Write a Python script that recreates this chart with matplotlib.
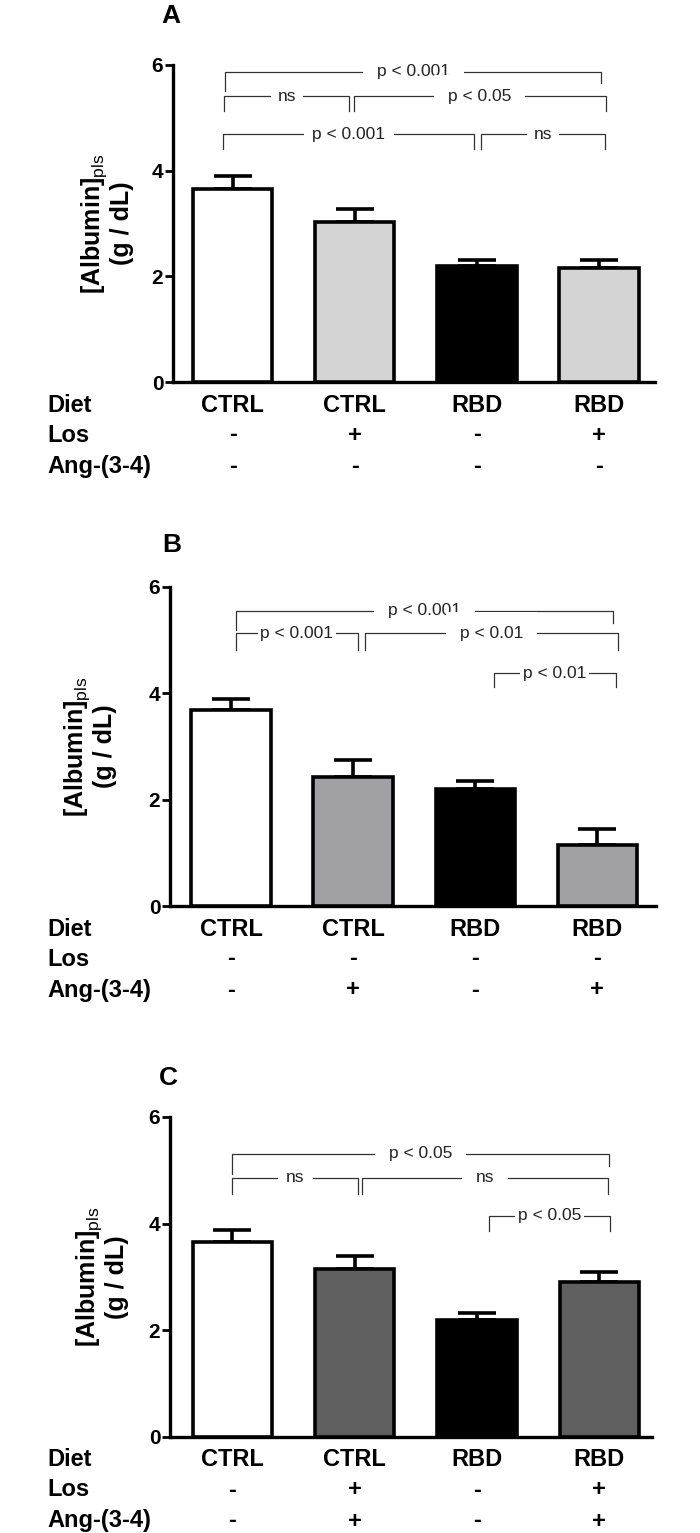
import numpy as np
import matplotlib.pyplot as plt

plt.rcParams['font.family'] = ['Liberation Sans', 'DejaVu Sans']
plt.rcParams['mathtext.fontset'] = 'custom'
plt.rcParams['mathtext.rm'] = 'Liberation Sans'
plt.rcParams['mathtext.bf'] = 'Liberation Sans:bold'

NARROW = ['Liberation Sans Narrow', 'Liberation Sans', 'DejaVu Sans']

#   Treatment groups (same four columns in each panel)
groups = ['CTRL', 'CTRL', 'RBD', 'RBD']
row_names = ['Diet', 'Los', 'Ang-(3-4)']

los_A = ['-', '+', '-', '+']
ang_A = ['-', '-', '-', '-']
los_B = ['-', '-', '-', '-']
ang_B = ['-', '+', '-', '+']
los_C = ['-', '+', '-', '+']
ang_C = ['-', '+', '-', '+']

#   Plasma albumin (g/dL), mean and SEM
alb_A = [3.65, 3.03, 2.19, 2.16]
sem_A = [0.24, 0.24, 0.12, 0.15]
alb_B = [3.68, 2.43, 2.20, 1.14]
sem_B = [0.22, 0.31, 0.15, 0.31]
alb_C = [3.65, 3.15, 2.20, 2.91]
sem_C = [0.24, 0.25, 0.13, 0.19]

#   Comparisons: (group i, group j, bracket height, label)
comp_A = [(0, 3, 5.875, 'p < 0.001'), (0, 1, 5.41, 'ns'), (1, 3, 5.41, 'p < 0.05'),
          (0, 2, 4.69, 'p < 0.001'), (2, 3, 4.69, 'ns')]
comp_B = [(0, 3, 5.55, 'p < 0.001'), (0, 1, 5.13, 'p < 0.001'), (1, 3, 5.13, 'p < 0.01'),
          (2, 3, 4.38, 'p < 0.01')]
comp_C = [(0, 3, 5.31, 'p < 0.05'), (0, 1, 4.86, 'ns'), (1, 3, 4.86, 'ns'),
          (2, 3, 4.15, 'p < 0.05')]

#   bracket end shifts (left, right), tick lengths (left, right), text gap (pt)
style_A = [(-0.06, 0.02, 0.375, 0.22, 10), (-0.07, -0.045, 0.28, 0.28, 5), (-0.01, 0.06, 0.28, 0.28, 10),
           (-0.08, -0.02, 0.28, 0.28, 6), (0.03, 0.05, 0.28, 0.28, 5)]
style_B = [(0.04, 0.13, 0.36, 0.22, 10), (0.04, 0.04, 0.31, 0.31, 2), (0.1, 0.17, 0.31, 0.31, 10),
           (0.15, 0.15, 0.27, 0.27, 2)]
style_C = [(0.0, 0.08, 0.375, 0.22, 10), (0.0, 0.03, 0.31, 0.31, 6), (0.06, 0.07, 0.31, 0.31, 10),
           (0.1, 0.09, 0.29, 0.29, 2)]

fig = plt.figure(figsize=(7, 15.33), dpi=100)
W, H = 700.0, 1533.0

def rect(left, right, top, bottom):
    return [left / W, 1 - bottom / H, (right - left) / W, (bottom - top) / H]

panels = [
    ('A', rect(173, 655, 65, 382), (-0.49, 3.46), alb_A, sem_A, '#d4d4d4', los_A, ang_A, comp_A, style_A, (171, 16), 107),
    ('B', rect(170, 656, 587, 906), (-0.50, 3.48), alb_B, sem_B, '#a1a1a5', los_B, ang_B, comp_B, style_B, (172, 545), 90),
    ('C', rect(170, 652, 1117, 1437), (-0.51, 3.43), alb_C, sem_C, '#5f5f5f', los_C, ang_C, comp_C, style_C, (168, 1078), 102),
]

x = np.arange(len(groups))
for letter, r, xl, vals, errs, grey, los, ang, comps, styles, lpos, ylab_x in panels:
    ax = fig.add_axes(r)
    colors = ['white', grey, 'black', grey]
    ax.bar(x, vals, width=0.65, color=colors, edgecolor='black', linewidth=2.6, zorder=3)
    ax.errorbar(x, vals, yerr=[np.zeros(4), errs], fmt='none', ecolor='black',
                elinewidth=2.6, capsize=14, capthick=2.6, zorder=2)
    ax.set_xlim(*xl)
    ax.set_ylim(0, 6)
    ax.set_yticks([0, 2, 4, 6])
    ax.set_xticks([])
    for s in ['top', 'right']:
        ax.spines[s].set_visible(False)
    for s in ['left', 'bottom']:
        ax.spines[s].set_linewidth(2.4)
    ax.tick_params(axis='y', length=6, width=2, pad=1, labelsize=15)
    for t in ax.get_yticklabels():
        t.set_fontweight('bold')
        t.set_fontfamily(NARROW)

    #   significance brackets
    for (i, j, h, lab), (dl, dr, tl, tr, gap) in zip(comps, styles):
        x1, x2 = i + dl, j + dr
        ax.plot([x1, x1, x2, x2], [h - tl, h, h, h - tr], color='#333333', lw=0.9,
                clip_on=False, zorder=4)
        ax.text((x1 + x2) / 2, h, lab, ha='center', va='center', fontsize=12.5, color='#222222',
                bbox=dict(facecolor='white', edgecolor='none', pad=gap), zorder=5, clip_on=False)

    #   group table under the axis
    rows = [groups, los, ang]
    offs = [23, 53, 84]
    for k, (name, entries) in enumerate(zip(row_names, rows)):
        ax.annotate(name, xy=(47 / W, 0), xycoords=('figure fraction', 'axes fraction'),
                    xytext=(0, -offs[k] * 0.72), textcoords='offset points',
                    ha='left', va='center', fontsize=17, fontweight='bold', family=NARROW,
                    annotation_clip=False)
        for xi, e in zip(x, entries):
            ax.annotate(e, xy=(xi, 0), xycoords=('data', 'axes fraction'),
                        xytext=(0, -offs[k] * 0.72), textcoords='offset points',
                        ha='center', va='center', fontsize=17, fontweight='bold', family=NARROW,
                        annotation_clip=False)

    fig.text(lpos[0] / W, 1 - lpos[1] / H, letter, ha='center', va='center',
             fontsize=19, fontweight='bold')
    fig.text(ylab_x / W, r[1] + r[3] / 2, '[Albumin]$_{\\mathrm{pls}}$\n(g / dL)', rotation=90,
             ha='center', va='center', multialignment='center', fontsize=18, fontweight='bold',
             family=NARROW, linespacing=1.05)

fig.savefig('out.png', dpi=100, facecolor='white')
